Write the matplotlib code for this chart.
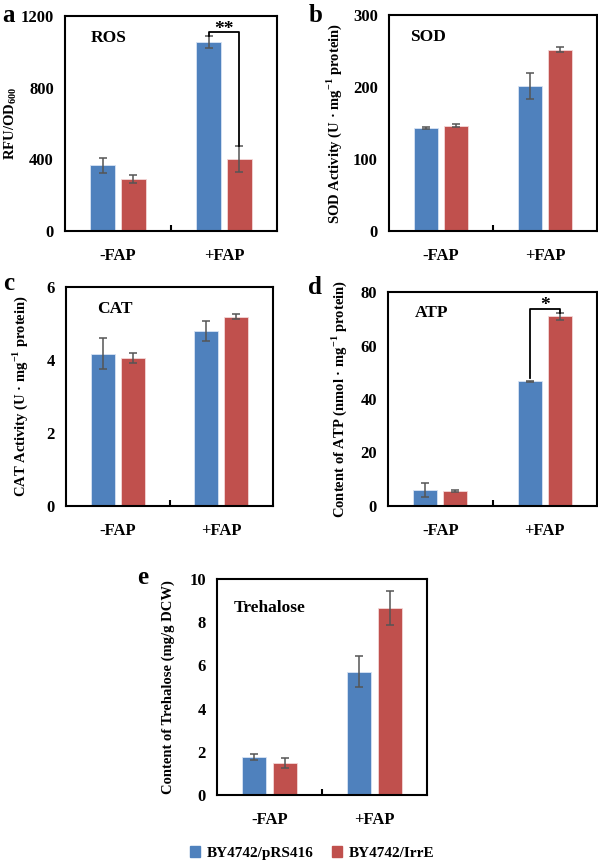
import numpy as np
import matplotlib.pyplot as plt
from matplotlib.patches import Patch

plt.rcParams['font.family'] = ['Liberation Serif', 'DejaVu Serif']
plt.rcParams['font.weight'] = 'bold'
plt.rcParams['axes.labelweight'] = 'bold'
plt.rcParams['mathtext.fontset'] = 'custom'
plt.rcParams['mathtext.rm'] = 'Liberation Serif:bold'
plt.rcParams['mathtext.bf'] = 'Liberation Serif:bold'

groups = ["-FAP", "+FAP"]
strains = ["BY4742/pRS416", "BY4742/IrrE"]
colors = ["#4F81BD", "#C0504D"]

ros_mean = [[368, 1055], [292, 404]]
ros_err = [[42, 32], [22, 72]]
sod_mean = [[143, 202], [146, 252]]
sod_err = [[2, 18], [2, 3]]
cat_mean = [[4.17, 4.79], [4.06, 5.19]]
cat_err = [[0.42, 0.28], [0.13, 0.07]]
atp_mean = [[6.0, 46.6], [5.6, 71.0]]
atp_err = [[2.6, 0.3], [0.4, 1.3]]
tre_mean = [[1.77, 5.71], [1.47, 8.66]]
tre_err = [[0.14, 0.71], [0.22, 0.77]]

# letter, title, ylabel, data, err, ymax, step, axes box (px), title pos, ylabel x (px), letter y (px)
panels = [
    ("a", "ROS", "RFU/OD$_{600}$", ros_mean, ros_err, 1200, 400, [65, 16, 277, 231], (0.12, 0.9), 11, 15),
    ("b", "SOD", "SOD Activity (U · mg$^{-1}$ protein)", sod_mean, sod_err, 300, 100, [389, 15, 597, 231], (0.1, 0.9), 334, 15),
    ("c", "CAT", "CAT Activity (U · mg$^{-1}$ protein)", cat_mean, cat_err, 6, 2, [66, 287, 273, 506], (0.15, 0.9), 20, 283),
    ("d", "ATP", "Content of ATP (nmol · mg$^{-1}$ protein)", atp_mean, atp_err, 80, 20, [388, 292, 597, 506], (0.13, 0.9), 339, 288),
    ("e", "Trehalose", "Content of Trehalose (mg/g DCW)", tre_mean, tre_err, 10, 2, [217, 579, 427, 795], (0.08, 0.866), 168, 578),
]

W, H = 598, 860
fig = plt.figure(figsize=(W / 100, H / 100), dpi=100)

x = np.arange(len(groups))
width = 0.23
offset = 0.145
axes = {}
for letter, title, ylabel, mean, err, ymax, step, box, tpos, ylx, lety in panels:
    l, t, r, b = box
    ax = fig.add_axes([l / W, 1 - b / H, (r - l) / W, (b - t) / H])
    axes[letter] = ax
    for i in range(2):
        ax.bar(x + (2 * i - 1) * offset, mean[i], width, color=colors[i],
               edgecolor="#f4d8d8" if i else "#d8e4f4", linewidth=0.6,
               yerr=err[i], ecolor="#555555", error_kw=dict(elinewidth=1.1, capsize=3, capthick=1.1))
    ax.set_xlim(-0.5, 1.5)
    ax.set_ylim(0, ymax)
    ax.set_yticks(np.arange(0, ymax + step / 2, step))
    ax.set_xticks(x)
    ax.set_xticklabels(groups)
    ax.set_xticks([0.5], minor=True)
    ax.tick_params(axis="y", which="major", length=0, labelsize=12, pad=8)
    ax.tick_params(axis="x", which="major", length=0, labelsize=12, pad=12)
    ax.tick_params(axis="x", which="minor", direction="in", length=4, width=1.5)
    for s in ax.spines.values():
        s.set_linewidth(1.5)
    ax.set_ylabel(ylabel, fontsize=10.5, va="center")
    ax.yaxis.set_label_coords((ylx - l) / (r - l), 0.5)
    ax.text(tpos[0], tpos[1], title, transform=ax.transAxes, fontsize=12.5, fontweight="bold", va="center")
    fig.text((l - 63) / W if letter in "ac" else (l - 80) / W, 1 - lety / H, letter,
             fontsize=18, fontweight="bold", va="center", ha="left")

# significance brackets
ax = axes["a"]
bx0, bx1 = 1 - offset, 1 + offset
ax.plot([bx0, bx0, bx1, bx1], [1090, 1110, 1110, ros_mean[1][1] + ros_err[1][1]], color="black", lw=1.3)
ax.text(1, 1075, "**", ha="center", va="bottom", fontsize=14)
ax = axes["d"]
ax.plot([bx0, bx0, bx1, bx1], [atp_mean[0][1] + atp_err[0][1] + 1, 73.5, 73.5, 72.3], color="black", lw=1.3)
ax.text(1, 71.8, "*", ha="center", va="bottom", fontsize=14)

handles = [Patch(color=c) for c in colors]
fig.legend(handles, strains, loc="center", bbox_to_anchor=(312 / W, 1 - 853 / H), ncol=2,
           frameon=False, fontsize=11, handlelength=0.7, handleheight=0.7, handletextpad=0.4,
           columnspacing=1.2)

fig.savefig("out.png", dpi=100)
